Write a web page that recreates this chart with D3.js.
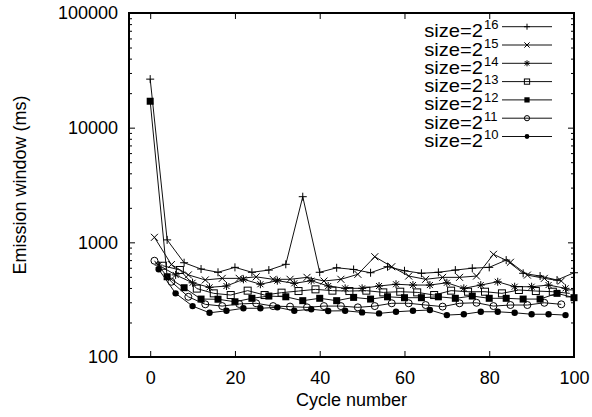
<!DOCTYPE html>
<html><head><meta charset="utf-8">
<script src="https://cdn.jsdelivr.net/npm/d3@7"></script>
<style>body{margin:0;background:#fff} text{font-family:"Liberation Sans",Arial,Helvetica,sans-serif}</style>
</head><body><svg id="c" width="592" height="417"></svg>
<script>
const xTicks=[0,20,40,60,80,100];
const yTicks=[100,1000,10000,100000];
const seriesNames=["16","15","14","13","12","11","10"];
const xA=[0,4,8,12,16,20,24,28,32,36,40,44,48,52,56,60,64,68,72,76,80,84,88,92,96,100];
const xB=[1,5,9,13,17,21,25,29,33,37,41,45,49,53,57,61,65,69,73,77,81,85,89,93,97];
const xC=[2,6,10,14,18,22,26,30,34,38,42,46,50,54,58,62,66,70,74,78,82,86,90,94,98];
const xD=[3,7,11,15,19,23,27,31,35,39,43,47,51,55,59,63,67,71,75,79,83,87,91,95,99];
const s16=[26500,1050,664,585,548,605,548,573,643,2500,548,600,580,543,613,565,537,548,573,595,605,700,537,508,469,543];
const s15=[1106,640,520,470,485,485,500,476,476,495,460,476,526,749,613,508,476,495,495,508,786,670,518,485,460];
const s14=[633,520,444,405,416,476,431,463,439,463,416,397,397,416,431,424,424,444,397,424,453,410,410,424,397];
const s13=[625,574,395,359,347,379,347,364,376,389,379,376,379,366,371,366,347,379,371,371,359,384,376,371,359];
const s12=[17000,501,402,320,319,303,325,340,335,310,325,310,331,320,335,329,329,335,325,340,325,325,320,320,359,329];
const s11=[691,453,335,288,278,290,294,278,275,271,278,278,271,278,294,294,284,275,294,297,278,284,284,297,288];
const s10=[582,359,278,243,253,266,266,271,253,261,252,253,245,240,248,253,257,232,236,248,248,243,236,236,232];

const series=[
 {name:seriesNames[0],xs:xA,ys:s16,sym:"plus"},
 {name:seriesNames[1],xs:xB,ys:s15,sym:"cross"},
 {name:seriesNames[2],xs:xC,ys:s14,sym:"star"},
 {name:seriesNames[3],xs:xD,ys:s13,sym:"osq"},
 {name:seriesNames[4],xs:xA,ys:s12,sym:"fsq"},
 {name:seriesNames[5],xs:xB,ys:s11,sym:"ocirc"},
 {name:seriesNames[6],xs:xC,ys:s10,sym:"fcirc"}
];

const W=592,H=417,L=129,R=574,T=13,B=357;
const svg=d3.select("#c");
const x=d3.scaleLinear().domain([-5,100]).range([L,R]);
const y=d3.scaleLog().domain([100,100000]).range([B,T]);

const minor=[];
[100,1000,10000].forEach(d=>{for(let k=2;k<=9;k++)minor.push(d*k);});

function styleAxis(g){g.select(".domain").remove();g.selectAll("line").attr("stroke","#000").attr("stroke-width",1);g.selectAll("text").attr("font-size",18).attr("fill","#000").attr("font-family","Liberation Sans, Arial, sans-serif");}

svg.append("g").attr("transform",`translate(0,${B})`).call(d3.axisBottom(x).tickValues(xTicks).tickFormat(d3.format("d")).tickSizeInner(-6).tickSizeOuter(0).tickPadding(14)).call(styleAxis);
svg.append("g").attr("transform",`translate(0,${T})`).call(d3.axisTop(x).tickValues(xTicks).tickFormat("").tickSizeInner(-6).tickSizeOuter(0)).call(styleAxis);
svg.append("g").attr("transform",`translate(${L},0)`).call(d3.axisLeft(y).tickValues(yTicks).tickFormat(d3.format("d")).tickSizeInner(-6).tickSizeOuter(0).tickPadding(11)).call(styleAxis);
svg.append("g").attr("transform",`translate(${L},0)`).call(d3.axisLeft(y).tickValues(minor).tickFormat("").tickSizeInner(-3).tickSizeOuter(0)).call(styleAxis);
svg.append("g").attr("transform",`translate(${R},0)`).call(d3.axisRight(y).tickValues(yTicks).tickFormat("").tickSizeInner(-6).tickSizeOuter(0)).call(styleAxis);
svg.append("g").attr("transform",`translate(${R},0)`).call(d3.axisRight(y).tickValues(minor).tickFormat("").tickSizeInner(-3).tickSizeOuter(0)).call(styleAxis);

svg.append("rect").attr("x",L).attr("y",T).attr("width",R-L).attr("height",B-T).attr("fill","none").attr("stroke","#000").attr("stroke-width",2);

svg.append("text").attr("x",(L+R)/2).attr("y",406).attr("text-anchor","middle").attr("font-size",18).text("Cycle number");
svg.append("text").attr("transform",`translate(26,${(T+B)/2}) rotate(-90)`).attr("text-anchor","middle").attr("font-size",18).text("Emission window (ms)");

function marker(g,sym,s){
  const c="#000";
  if(sym==="plus") g.append("path").attr("d",`M${-4*s},0H${4*s}M0,${-4*s}V${4*s}`).attr("stroke",c).attr("fill","none");
  else if(sym==="cross") g.append("path").attr("d",`M${-3.5*s},${-3.5*s}L${3.5*s},${3.5*s}M${-3.5*s},${3.5*s}L${3.5*s},${-3.5*s}`).attr("stroke",c).attr("fill","none");
  else if(sym==="star") g.append("path").attr("d",`M${-4*s},0H${4*s}M0,${-4*s}V${4*s}M${-3*s},${-3*s}L${3*s},${3*s}M${-3*s},${3*s}L${3*s},${-3*s}`).attr("stroke",c).attr("fill","none");
  else if(sym==="osq") g.append("rect").attr("x",-3.5*s).attr("y",-3.5*s).attr("width",7*s).attr("height",7*s).attr("fill","none").attr("stroke",c);
  else if(sym==="fsq") g.append("rect").attr("x",-3.5*s).attr("y",-3.5*s).attr("width",7*s).attr("height",7*s).attr("fill",c);
  else if(sym==="ocirc") g.append("circle").attr("r",3.5*s).attr("fill","none").attr("stroke",c);
  else if(sym==="fcirc") g.append("circle").attr("r",3.2*s).attr("fill",c);
}

const line=d3.line().x(d=>x(d[0])).y(d=>y(d[1]));
series.forEach(s=>{
  const pts=s.xs.map((v,i)=>[v,s.ys[i]]);
  svg.append("path").attr("d",line(pts)).attr("fill","none").attr("stroke","#111").attr("stroke-width",1);
  pts.forEach(p=>{const g=svg.append("g").attr("transform",`translate(${x(p[0])},${y(p[1])})`);marker(g,s.sym,1);});
});

series.forEach((s,i)=>{
  const ly=26.7+i*18.3;
  svg.append("g").attr("transform",`translate(483,${ly+10.5}) scale(1.12,1)`)
    .append("text").attr("x",0).attr("y",0).attr("text-anchor","end").attr("font-size",18).text("size=2");
  svg.append("text").attr("x",484).attr("y",ly+2.5).attr("font-size",13).text(s.name);
  svg.append("line").attr("x1",502).attr("x2",552).attr("y1",ly).attr("y2",ly).attr("stroke","#111");
  const g=svg.append("g").attr("transform",`translate(527,${ly})`);marker(g,s.sym,0.75);
});
</script></body></html>
